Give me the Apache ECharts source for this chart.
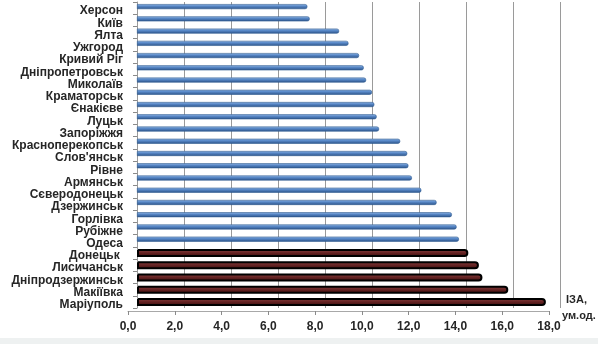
<!DOCTYPE html>
<html>
<head>
<meta charset="utf-8">
<script src="https://cdn.jsdelivr.net/npm/echarts@6/dist/echarts.min.js"></script>
<style>
  html, body { margin: 0; padding: 0; background: #fff; }
  #chart { width: 598px; height: 344px; }
</style>
</head>
<body>
<div id="chart"></div>
<script>
// Cities, top to bottom
const cities = [
  'Херсон', 'Київ', 'Ялта', 'Ужгород', 'Кривий Ріг', 'Дніпропетровськ',
  'Миколаїв', 'Краматорськ', 'Єнакієве', 'Луцьк', 'Запоріжжя',
  'Красноперекопськ', "Слов'янськ", 'Рівне', 'Армянськ', 'Сєверодонецьк',
  'Дзержинськ', 'Горлівка', 'Рубіжне', 'Одеса', 'Донецьк ', 'Лисичанськ',
  'Дніпродзержинськ', 'Макіївка', 'Маріуполь'
];
// Air pollution index (ІЗА) per city
const iza = [
  7.25, 7.35, 8.6, 9.0, 9.45, 9.65,
  9.75, 10.0, 10.1, 10.2, 10.3,
  11.2, 11.5, 11.55, 11.7, 12.1,
  12.75, 13.4, 13.6, 13.7, 14.1, 14.55,
  14.7, 15.8, 17.4
];
// Cities drawn in the dark highlight colour
const highlighted = ['Донецьк ', 'Лисичанськ', 'Дніпродзержинськ', 'Макіївка', 'Маріуполь'];
const xTicks = [0, 2, 4, 6, 8, 10, 12, 14, 16, 18];
const unitLabel = ['ІЗА,', 'ум.од.'];

const blueData = iza.map((v, i) => highlighted.includes(cities[i]) ? '-' : v);
const redData = iza.map((v, i) => highlighted.includes(cities[i]) ? v : '-');

const chart = echarts.init(document.getElementById('chart'), null, { renderer: 'canvas' });

const blueFill = new echarts.graphic.LinearGradient(0, 0, 0, 1, [
  { offset: 0, color: '#a9c4e8' },
  { offset: 0.35, color: '#5b8ccc' },
  { offset: 1, color: '#2d5388' }
]);
const redFill = new echarts.graphic.LinearGradient(0, 0, 0, 1, [
  { offset: 0, color: '#8a4545' },
  { offset: 0.45, color: '#6a2626' },
  { offset: 1, color: '#3a0d0d' }
]);

const labelFont = { fontFamily: 'Liberation Sans', fontWeight: 'bold', fontSize: 12, color: '#262626' };

chart.setOption({
  animation: false,
  backgroundColor: '#ffffff',
  grid: [
    // back wall: bars and gridlines
    { left: 137, right: 38, top: 2, height: 306, containLabel: false },
    // front edge: category names and value labels
    { left: 128, width: 421, top: 5, height: 306, containLabel: false }
  ],
  xAxis: [
    {
      gridIndex: 0, type: 'value', min: 0, max: 18, interval: 2,
      axisLabel: { show: false }, axisTick: { show: false },
      axisLine: { show: false },
      splitLine: { show: true, lineStyle: { color: '#9a9a9a', width: 1 } }
    },
    {
      gridIndex: 1, type: 'value', min: 0, max: 18, interval: 2,
      splitLine: { show: false },
      axisLine: { show: true, lineStyle: { color: '#a8a8a8' } },
      axisTick: { show: true, length: 4, lineStyle: { color: '#8a8a8a' } },
      axisLabel: Object.assign({
        margin: 10,
        customValues: xTicks,
        formatter: v => v.toFixed(1).replace('.', ',')
      }, labelFont)
    }
  ],
  yAxis: [
    {
      gridIndex: 0, type: 'category', data: cities, inverse: true,
      axisLine: { show: true, lineStyle: { color: '#9a9a9a' } },
      axisTick: { show: true, length: 4, interval: 0, lineStyle: { color: '#8a8a8a' } },
      axisLabel: { show: false }
    },
    {
      gridIndex: 1, type: 'category', data: cities, inverse: true,
      axisLine: { show: false }, axisTick: { show: false },
      axisLabel: Object.assign({ margin: 5, interval: 0 }, labelFont)
    }
  ],
  series: [
    {
      type: 'bar', xAxisIndex: 0, yAxisIndex: 0, data: blueData,
      barWidth: 5, barGap: '-100%',
      itemStyle: { color: blueFill, borderColor: '#2e5a90', borderWidth: 0.6, borderRadius: [0, 2, 2, 0] }
    },
    {
      type: 'bar', xAxisIndex: 0, yAxisIndex: 0, data: redData,
      barWidth: 8, barGap: '-100%',
      itemStyle: { color: redFill, borderColor: '#000000', borderWidth: 2, borderRadius: [0, 4, 4, 0] }
    }
  ],
  graphic: [
    {
      type: 'text', left: 566, top: 294,
      style: { text: unitLabel[0], font: 'bold 11px "Liberation Sans"', fill: '#262626' }
    },
    {
      type: 'text', left: 562, top: 310,
      style: { text: unitLabel[1], font: 'bold 11px "Liberation Sans"', fill: '#262626' }
    },
    {
      type: 'rect', shape: { x: 0, y: 338, width: 598, height: 6 },
      style: { fill: '#eef1f1' }, silent: true
    }
  ]
});
</script>
</body>
</html>
